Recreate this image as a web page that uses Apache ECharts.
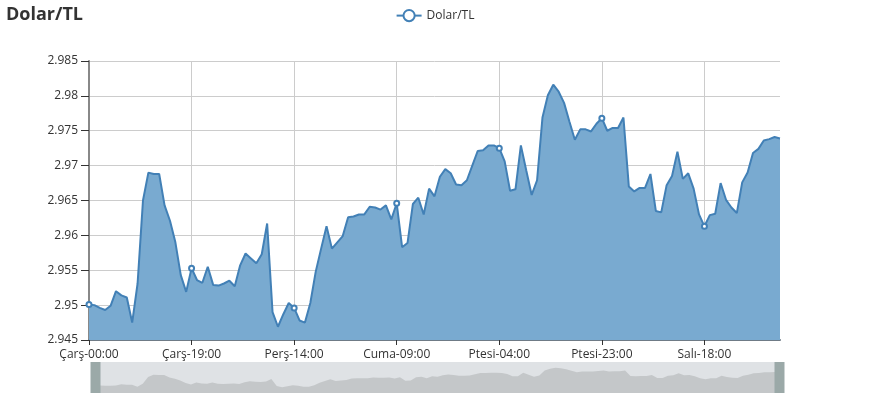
<!DOCTYPE html>
<html>
<head>
<meta charset="utf-8">
<script src="https://cdn.jsdelivr.net/npm/echarts@6/dist/echarts.min.js"></script>
<style>
html,body{margin:0;padding:0;background:#fff;}
#chart{width:870px;height:400px;}
</style>
</head>
<body>
<div id="chart"></div>
<script>
// Category labels: hourly, weekend skipped
const dayNames = ['Çarş', 'Perş', 'Cuma', 'Ptesi', 'Salı', 'Çarş'];
const hoursPerDay = [24, 24, 24, 24, 24, 9];
const categories = [];
dayNames.forEach(function (d, k) {
  for (let h = 0; h < hoursPerDay[k]; h++) {
    categories.push(d + '-' + (h < 10 ? '0' : '') + h + ':00');
  }
});

const seriesName = 'Dolar/TL';
const rates = [
  2.9501, 2.9500, 2.9496, 2.9493, 2.9499, 2.9520, 2.9514, 2.9511, 2.9475, 2.9531,
  2.9650, 2.9690, 2.9688, 2.9688, 2.9643, 2.9621, 2.9590, 2.9543, 2.9519, 2.9553,
  2.9536, 2.9532, 2.9555, 2.9529, 2.9528, 2.9531, 2.9535, 2.9527, 2.9557, 2.9574,
  2.9567, 2.9560, 2.9573, 2.9617, 2.9490, 2.9469, 2.9487, 2.9503, 2.9496, 2.9478,
  2.9475, 2.9503, 2.9548, 2.9581, 2.9613, 2.9581, 2.9590, 2.9599, 2.9626, 2.9627,
  2.9630, 2.9630, 2.9641, 2.9640, 2.9637, 2.9643, 2.9623, 2.9646, 2.9583, 2.9589,
  2.9645, 2.9654, 2.9630, 2.9667, 2.9656, 2.9684, 2.9695, 2.9689, 2.9673, 2.9672,
  2.9679, 2.9700, 2.9721, 2.9722, 2.9729, 2.9729, 2.9725, 2.9706, 2.9664, 2.9666,
  2.9729, 2.9693, 2.9658, 2.9679, 2.9769, 2.9801, 2.9816, 2.9806, 2.9790, 2.9763,
  2.9737, 2.9752, 2.9752, 2.9749, 2.9760, 2.9768, 2.9750, 2.9754, 2.9754, 2.9769,
  2.9670, 2.9663, 2.9668, 2.9668, 2.9688, 2.9635, 2.9633, 2.9672, 2.9685, 2.9720,
  2.9681, 2.9689, 2.9667, 2.9630, 2.9613, 2.9629, 2.9631, 2.9675, 2.9651, 2.9640,
  2.9632, 2.9676, 2.9690, 2.9718, 2.9724, 2.9736, 2.9738, 2.9741, 2.9739
];

const yMin = 2.945, yMax = 2.985, yStep = 0.005;
const labelEvery = 18;

const FONT = '"Open Sans", "Noto Sans", sans-serif';
const chart = echarts.init(document.getElementById('chart'), null, {renderer: 'canvas'});
chart.setOption({
  animation: false,
  backgroundColor: '#fff',
  textStyle: {fontFamily: FONT},
  title: {
    text: 'Dolar/TL',
    left: 1, top: 1,
    textStyle: {fontSize: 18, fontWeight: 'bold', color: '#333', fontFamily: FONT}
  },
  legend: {
    data: [seriesName],
    left: 'center', top: 4,
    itemWidth: 25, itemHeight: 14,
    textStyle: {fontSize: 12, color: '#333', fontFamily: FONT}
  },
  grid: {left: 89, right: 90, top: 61, bottom: 60, containLabel: false},
  xAxis: {
    type: 'category',
    boundaryGap: false,
    data: categories,
    axisLine: {show: true, lineStyle: {color: '#6f7b86', width: 2}},
    axisTick: {show: true, interval: labelEvery, length: 5, lineStyle: {color: '#333'}},
    axisLabel: {interval: labelEvery, color: '#333', fontSize: 12, margin: 9, fontFamily: FONT},
    splitLine: {show: true, interval: labelEvery, lineStyle: {color: '#ccc', width: 1}}
  },
  yAxis: {
    type: 'value',
    min: yMin, max: yMax, interval: yStep,
    axisLine: {show: true, lineStyle: {color: '#888', width: 2}},
    axisTick: {show: true, length: 8, lineStyle: {color: '#333'}},
    axisLabel: {color: '#333', fontSize: 12, margin: 11, fontFamily: FONT},
    splitLine: {show: true, lineStyle: {color: '#ccc', width: 1}}
  },
  dataZoom: [{
    type: 'slider',
    xAxisIndex: 0,
    start: 0, end: 100,
    left: 92, right: 92, top: 362, height: 31,
    showDetail: false,
    brushSelect: false,
    moveHandleSize: 0,
    borderColor: 'transparent',
    backgroundColor: '#dfe2e5',
    fillerColor: 'rgba(0,0,0,0)',
    handleIcon: 'path://M0,0 L10,0 L10,31 L0,31 Z',
    handleSize: '100%',
    handleStyle: {color: '#9ba9a8', borderWidth: 0, borderColor: 'transparent'},
    dataBackground: {lineStyle: {opacity: 0}, areaStyle: {color: '#c4c7c9', opacity: 1}},
    selectedDataBackground: {lineStyle: {opacity: 0}, areaStyle: {color: '#c4c7c9', opacity: 1}}
  }],
  series: [{
    name: seriesName,
    type: 'line',
    data: rates,
    symbol: 'emptyCircle',
    symbolSize: 5,
    showAllSymbol: 'auto',
    lineStyle: {color: '#4280b6', width: 2},
    itemStyle: {color: '#4280b6', borderColor: '#4280b6', borderWidth: 1.5},
    areaStyle: {color: '#79aad0', opacity: 1}
  }]
});
</script>
</body>
</html>
